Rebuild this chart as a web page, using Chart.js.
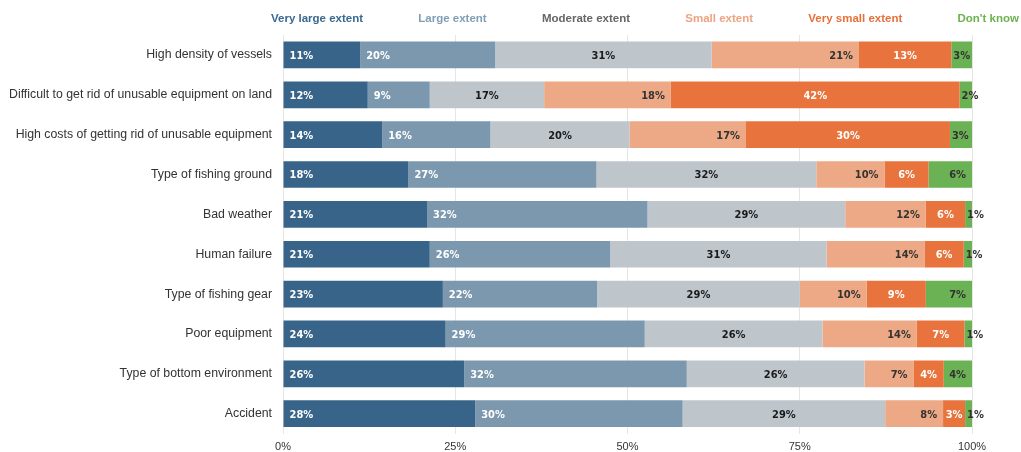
<!DOCTYPE html>
<html><head><meta charset="utf-8">
<script src="https://cdn.jsdelivr.net/npm/chart.js@4.4.0/dist/chart.umd.min.js"></script>
<style>html,body{margin:0;padding:0;background:#fff}#wrap{width:1021px;height:452px;position:relative}</style>
</head><body><div id="wrap"><canvas id="c"></canvas></div>
<script>
const categories = ["High density of vessels","Difficult to get rid of unusable equipment on land","High costs of getting rid of unusable equipment","Type of fishing ground","Bad weather","Human failure","Type of fishing gear","Poor equipment","Type of bottom environment","Accident"];
const seriesNames = ["Very large extent","Large extent","Moderate extent","Small extent","Very small extent","Don't know"];
const veryLarge = [11.2,12.3,14.4,18.2,20.9,21.3,23.2,23.6,26.3,27.9];
const large     = [19.6,9.0,15.7,27.3,32.0,26.2,22.4,28.9,32.3,30.1];
const moderate  = [31.4,16.6,20.2,31.9,28.7,31.4,29.4,25.8,25.8,29.4];
const small     = [21.4,18.4,16.9,9.9,11.7,14.2,9.7,13.7,7.1,8.4];
const verySmall = [13.4,41.9,29.6,6.4,5.7,5.7,8.6,6.9,4.4,3.2];
const dontKnow  = [3.0,1.8,3.2,6.3,1.0,1.2,6.7,1.1,4.1,1.0];
const xTicks = [0,25,50,75,100];

const seriesValues = [veryLarge, large, moderate, small, verySmall, dontKnow];
const barColors = ['#386489','#7b98ae','#bec6cc','#eda985','#e8733c','#6bb254'];
const legendColors = ['#3a6990','#7f9fb6','#666666','#eea483','#e8703a','#6cb24e'];
const labelStyles = [
  {align:'start', color:'#ffffff'},
  {align:'start', color:'#ffffff'},
  {align:'center', color:'#1a1a1a'},
  {align:'end', color:'#333333'},
  {align:'center', color:'#ffffff'},
  {align:'fit', color:'#333333'}
];
const LABEL_FONT = "bold 11px 'Liberation Sans Narrow','DejaVu Sans Condensed','Liberation Sans',Arial,sans-serif";

const segLabels = {
  id:'segLabels',
  afterDatasetsDraw(chart){
    const ctx = chart.ctx;
    ctx.save();
    ctx.font = LABEL_FONT;
    ctx.textBaseline = 'middle';
    chart.data.datasets.forEach((ds,di)=>{
      const meta = chart.getDatasetMeta(di);
      const st = labelStyles[di];
      meta.data.forEach((el,i)=>{
        const txt = Math.round(ds.data[i]) + '%';
        const x0 = Math.min(el.base, el.x), x1 = Math.max(el.base, el.x);
        const w = ctx.measureText(txt).width;
        let x, a;
        if (st.align === 'start') { x = x0 + 6; a = 'left'; }
        else if (st.align === 'end') { x = x1 - 6; a = 'right'; }
        else if (st.align === 'center') { x = (x0 + x1)/2; a = 'center'; }
        else {
          if (x1 - x0 >= w + 10) { x = x1 - 6; a = 'right'; }
          else { x = x0 + 2; a = 'left'; }
        }
        ctx.textAlign = a;
        ctx.fillStyle = st.color;
        ctx.fillText(txt, x, el.y + 1);
      });
    });
    ctx.restore();
  }
};

const topLegend = {
  id:'topLegend',
  afterDraw(chart){
    const ctx = chart.ctx;
    ctx.save();
    ctx.font = "bold 11.5px 'Liberation Sans','Arial',sans-serif";
    ctx.textBaseline = 'middle';
    ctx.textAlign = 'left';
    const widths = seriesNames.map(n => ctx.measureText(n).width);
    const startX = chart.chartArea.left - 12;
    const endX = chart.width - 2;
    const total = widths.reduce((a,b)=>a+b,0);
    const gap = (endX - startX - total) / (seriesNames.length - 1);
    let x = startX;
    seriesNames.forEach((n,i)=>{
      ctx.fillStyle = legendColors[i];
      ctx.fillText(n, x, 19);
      x += widths[i] + gap;
    });
    ctx.restore();
  }
};

new Chart(document.getElementById('c'), {
  type:'bar',
  data:{
    labels: categories,
    datasets: seriesNames.map((n,i)=>({
      label:n, data:seriesValues[i], backgroundColor:barColors[i],
      borderWidth:0, barPercentage:0.67, categoryPercentage:1
    }))
  },
  options:{
    indexAxis:'y',
    responsive:true, maintainAspectRatio:false, animation:false,
    layout:{padding:{left:10, right:49, top:35, bottom:0}},
    plugins:{legend:{display:false}, tooltip:{enabled:false}},
    scales:{
      x:{
        stacked:true, min:0, max:100,
        grid:{color:'#e6e6e6', drawTicks:false},
        border:{display:false},
        afterBuildTicks: s => { s.ticks = xTicks.map(v=>({value:v})); },
        afterFit: s => { s.height = 17; },
        ticks:{color:'#333', padding:7, font:{size:11, family:"'Liberation Sans',Arial,sans-serif"}, callback:v=>v+'%'}
      },
      y:{
        stacked:true,
        grid:{display:false, drawTicks:false},
        border:{display:false},
        ticks:{color:'#333', padding:11, font:{size:12.3, family:"'Liberation Sans',Arial,sans-serif"}},
        afterFit: s => { s.width = 273; }
      }
    }
  },
  plugins:[segLabels, topLegend]
});
</script></body></html>
